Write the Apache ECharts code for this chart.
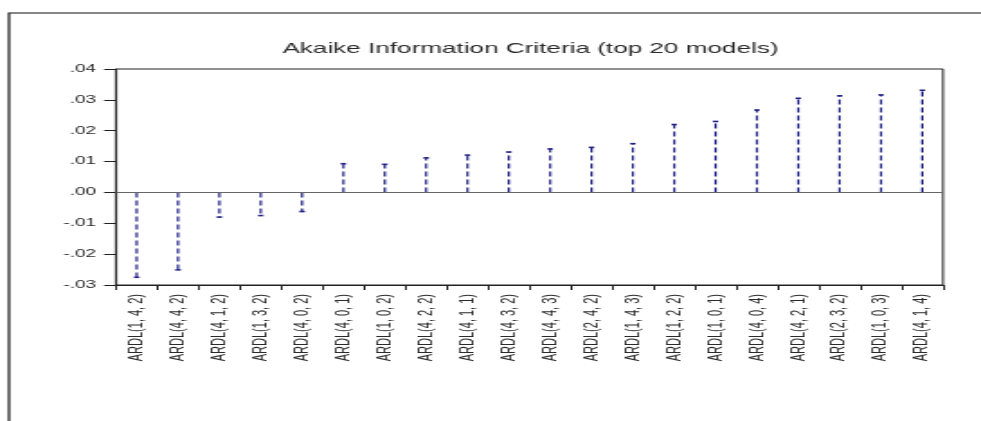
<!DOCTYPE html>
<html>
<head>
<meta charset="utf-8">
<script src="https://cdn.jsdelivr.net/npm/echarts@6/dist/echarts.min.js"></script>
<style>
  html, body { margin: 0; padding: 0; background: #fff; overflow: hidden; }
  /* EViews-style graph exported with a wide horizontal stretch */
  #chart { position: absolute; left: 0; top: 0; width: 545px; height: 421px;
           transform: scaleX(1.8); transform-origin: 0 0; }
</style>
</head>
<body>
<div id="chart"></div>
<script>
const STRETCH = 1.8;

const models = [
  'ARDL(1, 4, 2)', 'ARDL(4, 4, 2)', 'ARDL(4, 1, 2)', 'ARDL(1, 3, 2)', 'ARDL(4, 0, 2)',
  'ARDL(4, 0, 1)', 'ARDL(1, 0, 2)', 'ARDL(4, 2, 2)', 'ARDL(4, 1, 1)', 'ARDL(4, 3, 2)',
  'ARDL(4, 4, 3)', 'ARDL(2, 4, 2)', 'ARDL(1, 4, 3)', 'ARDL(1, 2, 2)', 'ARDL(1, 0, 1)',
  'ARDL(4, 0, 4)', 'ARDL(4, 2, 1)', 'ARDL(2, 3, 2)', 'ARDL(1, 0, 3)', 'ARDL(4, 1, 4)'
];
const aicValues = [
  -0.0275, -0.0251, -0.0080, -0.0075, -0.0062,
  0.0093, 0.0091, 0.0112, 0.0121, 0.0131,
  0.0141, 0.0146, 0.0158, 0.0220, 0.0230,
  0.0267, 0.0305, 0.0313, 0.0316, 0.0331
];
const yTicks = { min: -0.03, max: 0.04, step: 0.01 };
const titleText = 'Akaike Information Criteria (top 20 models)';

const stemColor = '#1f1f85';

function fmtTick(v) {
  const s = Math.abs(v).toFixed(2).replace(/^0/, '');
  return (v < 0 ? '-' : '') + s;
}

const chart = echarts.init(document.getElementById('chart'));
chart.setOption({
  animation: false,
  backgroundColor: '#fff',
  title: {
    text: titleText,
    left: 521.5 / STRETCH,
    top: 36,
    textAlign: 'center',
    textStyle: { fontFamily: 'Liberation Sans, Arial, sans-serif', fontSize: 14.5, fontWeight: 'normal', color: '#2a2a2a' }
  },
  graphic: [{
    type: 'rect',
    shape: { x: 9 / STRETCH, y: 13, width: 2000, height: 2000 },
    style: { fill: 'none', stroke: '#111', lineWidth: 1.2 },
    silent: true, z: -1
  }],
  grid: {
    left: 116 / STRETCH, right: 38 / STRETCH, top: 69, bottom: 136,
    show: true, borderColor: '#222', borderWidth: 1, backgroundColor: 'transparent'
  },
  xAxis: {
    type: 'category',
    data: models,
    boundaryGap: true,
    axisLine: { show: true, onZero: false, lineStyle: { color: '#222', width: 1 } },
    axisTick: { show: true, alignWithLabel: false, length: 5, lineStyle: { color: '#222', width: 1 } },
    axisLabel: {
      rotate: 90, margin: 9, interval: 0,
      fontFamily: 'Liberation Sans, Arial, sans-serif', fontSize: 11, color: '#2a2a2a'
    },
    splitLine: { show: false }
  },
  yAxis: {
    type: 'value',
    min: yTicks.min, max: yTicks.max, interval: yTicks.step,
    axisLine: { show: true, lineStyle: { color: '#222', width: 1.2 } },
    axisTick: { show: true, inside: false, length: 12 / STRETCH, lineStyle: { color: '#222', width: 1 } },
    axisLabel: {
      margin: 11, formatter: fmtTick,
      fontFamily: 'Liberation Sans, Arial, sans-serif', fontSize: 10.5, color: '#2a2a2a'
    },
    splitLine: { show: false }
  },
  series: [{
    type: 'custom',
    data: aicValues.map((v, i) => [i, v]),
    encode: { x: 0, y: 1 },
    renderItem: function (params, api) {
      const i = api.value(0), v = api.value(1);
      const base = api.coord([i, 0]);
      const tip = api.coord([i, v]);
      const cap = 1.5;
      return {
        type: 'group',
        children: [{
          type: 'line',
          shape: { x1: base[0], y1: base[1], x2: tip[0], y2: tip[1] },
          style: { stroke: stemColor, lineWidth: 1.2, lineDash: [5, 3] }
        }, {
          type: 'line',
          shape: { x1: tip[0] - cap, y1: tip[1], x2: tip[0] + cap, y2: tip[1] },
          style: { stroke: stemColor, lineWidth: 1.6 }
        }]
      };
    },
    markLine: {
      silent: true, symbol: 'none', label: { show: false },
      lineStyle: { color: '#666', width: 1, type: 'solid' },
      data: [{ yAxis: 0 }]
    },
    z: 3
  }]
});
</script>
</body>
</html>
